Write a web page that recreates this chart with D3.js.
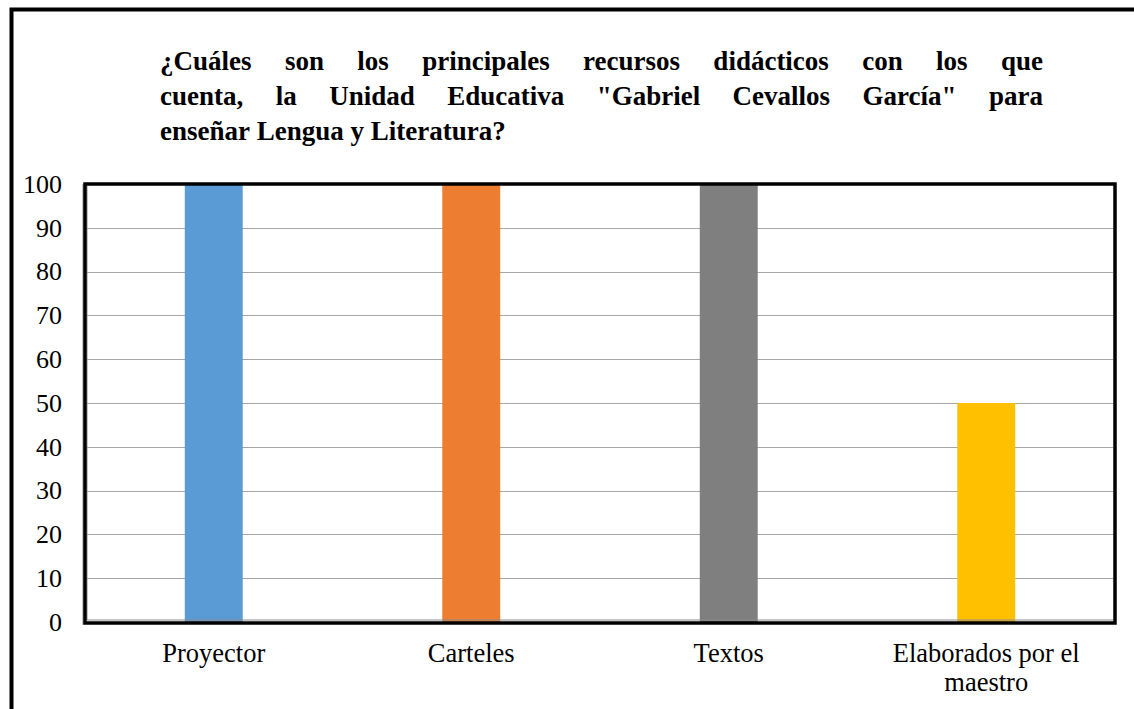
<!DOCTYPE html>
<html>
<head>
<meta charset="utf-8">
<script src="https://cdn.jsdelivr.net/npm/d3@7"></script>
<style>
  html, body { margin: 0; padding: 0; background: #fff; }
  svg { display: block; }
</style>
</head>
<body>
<svg id="chart" width="1134" height="709"></svg>
<script>
'use strict';

// data
var categories = ['Proyector', 'Carteles', 'Textos', 'Elaborados por el maestro'];
var values = [100, 100, 100, 50];
var barColors = ['#5b9bd5', '#ed7d31', '#7f7f7f', '#ffc000'];
var yTicks = [0, 10, 20, 30, 40, 50, 60, 70, 80, 90, 100];
var titleLines = [
  '¿Cuáles son los principales recursos didácticos con los que',
  'cuenta, la Unidad Educativa "Gabriel Cevallos García" para',
  'enseñar Lengua y Literatura?'
];

var FONT = '"Liberation Serif", "Times New Roman", serif';
var width = 1134, height = 709;
var plot = {left: 85, top: 184, right: 1115, bottom: 622};

var svg = d3.select('#chart')
  .style('font-family', FONT);

// outer frame (only left and top edges are visible)
svg.append('path')
  .attr('d', 'M11.5,' + (height + 10) + 'V9.5H' + (width + 10))
  .attr('fill', 'none')
  .attr('stroke', '#000')
  .attr('stroke-width', 4);

// title, justified between two edges (last line left aligned)
var titleLeft = 160, titleRight = 1043, titleSize = 27;
var title = svg.append('g').attr('class', 'title');
titleLines.forEach(function(line, i){
  var words = line.split(' ');
  var t = title.append('text')
    .attr('y', 70 + i * 35)
    .style('font-family', FONT)
    .style('font-size', titleSize + 'px')
    .style('font-weight', 'bold')
    .attr('fill', '#000');
  var spans = words.map(function(w){ return t.append('tspan').text(w); });
  var widths = spans.map(function(s){ return s.node().getComputedTextLength(); });
  var last = i === titleLines.length - 1;
  var gap = last ? titleSize * 0.25 : (titleRight - titleLeft - d3.sum(widths)) / (words.length - 1);
  var x = titleLeft;
  spans.forEach(function(s, j){
    s.attr('x', x);
    x += widths[j] + gap;
  });
});

// scales
var x = d3.scaleBand()
  .domain(categories)
  .range([plot.left, plot.right]);

var y = d3.scaleLinear()
  .domain([0, 100])
  .range([plot.bottom, plot.top]);

// gridlines
svg.append('g')
  .attr('class', 'grid')
  .selectAll('line')
  .data(yTicks.filter(function(d){ return d > 0 && d < 100; }))
  .enter().append('line')
  .attr('x1', plot.left + 2)
  .attr('x2', plot.right - 2)
  .attr('y1', function(d){ return Math.round(y(d)) + 0.5; })
  .attr('y2', function(d){ return Math.round(y(d)) + 0.5; })
  .attr('stroke', '#a6a6a6')
  .attr('stroke-width', 1);

// bars
var barW = x.bandwidth() * 0.225;
svg.append('g')
  .attr('class', 'bars')
  .selectAll('rect')
  .data(values)
  .enter().append('rect')
  .attr('x', function(d, i){ return x(categories[i]) + x.bandwidth() / 2 - barW / 2; })
  .attr('width', barW)
  .attr('y', function(d){ return y(d); })
  .attr('height', function(d){ return y(0) - y(d); })
  .attr('fill', function(d, i){ return barColors[i]; });

// plot border: thick black, grey shadow on left and bottom
svg.append('path')
  .attr('d', 'M' + (plot.left + 2) + ',' + (plot.top + 2) + 'V' + (plot.bottom - 2) + 'H' + (plot.right - 2))
  .attr('fill', 'none')
  .attr('stroke', '#8c8c8c')
  .attr('stroke-width', 1);
svg.append('path')
  .attr('d', 'M' + (plot.left - 2) + ',' + plot.top + 'V' + (plot.bottom + 3))
  .attr('fill', 'none')
  .attr('stroke', '#8c8c8c')
  .attr('stroke-width', 1);
svg.append('rect')
  .attr('x', plot.left)
  .attr('y', plot.top)
  .attr('width', plot.right - plot.left)
  .attr('height', plot.bottom - plot.top + 1)
  .attr('fill', 'none')
  .attr('stroke', '#000')
  .attr('stroke-width', 3.5);

// y axis labels
var yAxis = d3.axisLeft(y).tickValues(yTicks).tickSize(0).tickPadding(0);
var yg = svg.append('g')
  .attr('transform', 'translate(62,0)')
  .call(yAxis)
  .attr('font-family', null)
  .attr('font-size', null);
yg.select('.domain').remove();
yg.selectAll('text')
  .style('font-family', FONT)
  .style('font-size', '26px')
  .attr('fill', '#000');

// category labels, wrapped inside the band
function wrap(label, maxW, size){
  var probe = svg.append('text').style('font-family', FONT).style('font-size', size + 'px');
  var words = label.split(' '), lines = [], cur = '';
  words.forEach(function(w){
    var test = cur ? cur + ' ' + w : w;
    probe.text(test);
    if(probe.node().getComputedTextLength() > maxW && cur){
      lines.push(cur);
      cur = w;
    } else {
      cur = test;
    }
  });
  lines.push(cur);
  probe.remove();
  return lines;
}

var xg = svg.append('g').attr('class', 'xlabels');
categories.forEach(function(c){
  var cx = x(c) + x.bandwidth() / 2;
  var lines = wrap(c, x.bandwidth() * 0.9, 26.5);
  lines.forEach(function(l, k){
    xg.append('text')
      .attr('text-anchor', 'middle')
      .style('font-family', FONT)
      .style('font-size', '26.5px')
      .attr('fill', '#000')
      .attr('x', cx)
      .attr('y', 662 + k * 29)
      .text(l);
  });
});
</script>
</body>
</html>
